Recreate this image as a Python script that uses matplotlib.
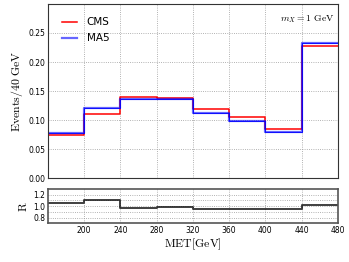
import numpy as np
import matplotlib
matplotlib.use("Agg")
import matplotlib.pyplot as plt

bin_edges = [160, 200, 240, 280, 320, 360, 400, 440, 480]
cms = [0.0741, 0.110, 0.1407, 0.1385, 0.119, 0.105, 0.0845, 0.228]
ma5 = [0.0786, 0.1217, 0.1367, 0.137, 0.113, 0.0993, 0.0798, 0.233]
xticks = [200, 240, 280, 320, 360, 400, 440, 480]
yticks = [0.00, 0.05, 0.10, 0.15, 0.20, 0.25]
rticks = [0.8, 1.0, 1.2]

edges = np.array(bin_edges)
cms_a = np.array(cms)
ma5_a = np.array(ma5)
ratio = ma5_a / cms_a

plt.rcParams['mathtext.fontset'] = 'cm'

fig = plt.figure(figsize=(3.49, 2.62), dpi=100)
ax = fig.add_axes([0.1375, 0.3195, 0.8305, 0.6655])
axr = fig.add_axes([0.1375, 0.147, 0.8305, 0.1316])

def step(vals):
    return np.append(vals, vals[-1])

ax.step(edges, step(cms_a), where='post', color='red', lw=1.1, label='CMS')
ax.step(edges, step(ma5_a), where='post', color='blue', lw=1.6, alpha=0.6, label='MA5')
ax.step(edges, step(ma5_a), where='post', color='blue', lw=0.6)
ax.set_xlim(160, 480)
ax.set_ylim(0, 0.30)
ax.set_xticks(xticks)
ax.set_xticklabels([])
ax.set_yticks(yticks)
ax.set_yticklabels([f"{v:.2f}" for v in yticks])
ax.tick_params(labelsize=5.5, length=0, pad=2)
ax.grid(True, ls=':', color='#999999', lw=0.6)
ax.set_ylabel(r'$\mathrm{Events/40\ GeV}$', fontsize=8.5, labelpad=2)
leg = ax.legend(loc='upper left', frameon=False, fontsize=7.5, handlelength=1.5,
                borderaxespad=0.9, labelspacing=0.55, handletextpad=0.9)
ax.text(0.99, 0.915, r'$m_X = 1\ \mathrm{GeV}$', transform=ax.transAxes,
        ha='right', va='center', fontsize=7)
for s in ax.spines.values():
    s.set_color('#333333')

axr.step(edges, step(ratio), where='post', color='black', lw=1.4, alpha=0.75)
axr.set_xlim(160, 480)
axr.set_ylim(0.7, 1.3)
axr.set_xticks(xticks)
axr.set_xticklabels([str(v) for v in xticks])
axr.set_yticks(rticks)
axr.set_yticklabels([f"{v:.1f}" for v in rticks])
axr.set_yticks([0.9, 1.1], minor=True)
axr.tick_params(labelsize=5.5, length=0, pad=2)
axr.tick_params(which='minor', length=0)
axr.grid(True, which='both', ls=':', color='#999999', lw=0.6)
axr.set_ylabel(r'$\mathrm{R}$', fontsize=8.5, labelpad=2)
axr.set_xlabel(r'$\mathrm{MET[GeV]}$', fontsize=8.5, labelpad=1)
for s in axr.spines.values():
    s.set_color('#555555')
    s.set_linewidth(1.2)

fig.savefig('out.png', dpi=100)
